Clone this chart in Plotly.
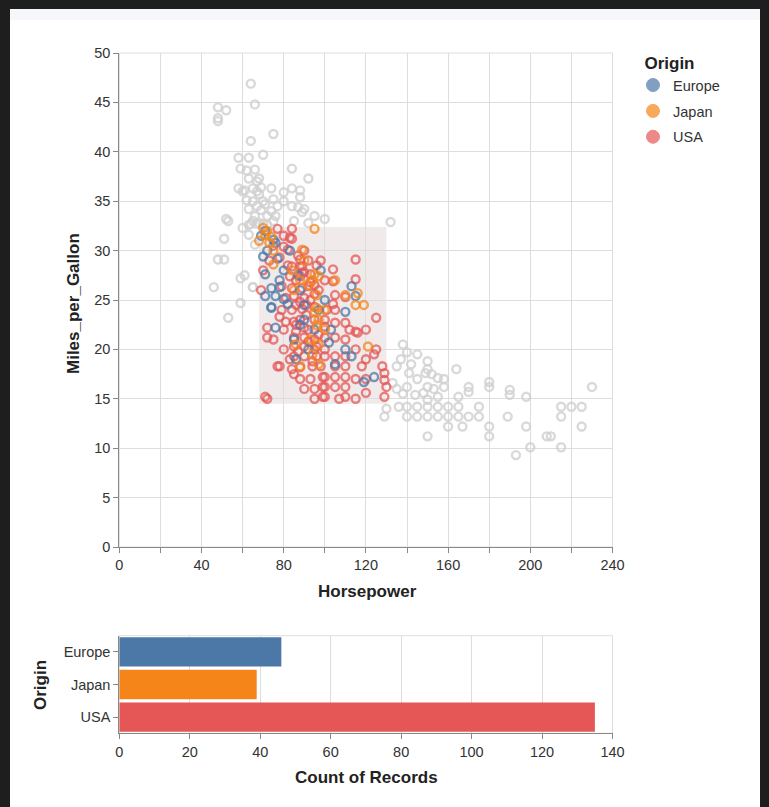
import plotly.graph_objects as go

# ---------------- data ----------------
# points outside the brush (drawn gray)
gray_hp = [46, 48, 48, 52, 48, 64, 66, 64, 75,
           52, 53, 51, 48, 51, 53, 59, 59, 65, 60,
           58, 63, 70, 84, 92, 59, 62, 66, 68, 63, 58, 65, 74, 84, 88, 80, 77, 88, 84, 87, 89, 74, 100, 132,
           67, 68, 70, 71, 63, 65, 62, 66, 68, 69, 72, 76, 80, 75, 90, 92, 61, 67, 70, 65, 60, 72, 75, 85, 95, 67, 69, 64, 63, 67,
           63, 66, 61, 65,
           138, 140, 145, 150, 150, 155, 164, 149, 150, 141, 135, 180, 180, 170, 170, 190, 190, 198, 230, 215, 220, 225,
           215, 225, 208, 210, 200, 215, 193, 198, 189, 180, 180, 175, 175, 170, 165, 165, 167, 160, 160, 160, 155, 155,
           150, 150, 150, 145, 145, 140, 140, 136, 129, 150, 144, 155, 140, 165, 133, 153, 158, 145, 138, 130, 148, 142,
           152, 158, 135, 137]
gray_mpg = [26.3, 43.4, 44.5, 44.2, 43.1, 46.9, 44.8, 41.1, 41.8,
            33.2, 33.0, 31.2, 29.1, 29.1, 23.2, 27.2, 24.7, 26.3, 32.3,
            39.4, 39.4, 39.7, 38.3, 37.3, 38.3, 38.1, 38.2, 37.3, 37.3, 36.3, 36.3, 36.3, 36.3, 36.1, 35.9, 34.5, 35.4, 34.5, 34.4, 33.9, 34.0, 33.2, 32.9,
            36.0, 35.7, 35.0, 34.7, 34.2, 35.0, 35.1, 33.5, 32.8, 34.1, 33.5, 33.5, 35.0, 35.2, 34.2, 32.8, 36.1, 34.5, 32.7, 33.0, 36.0, 32.6, 33.0, 33.0, 33.5, 37.0, 36.4, 32.7, 32.6, 32.7,
            31.6, 30.6, 27.5, 26.3,
            20.5, 19.7, 19.5, 18.8, 18.0, 17.1, 18.0, 17.6, 16.2, 17.6, 18.3, 16.7, 16.2, 16.2, 15.7, 15.9, 15.4, 15.2, 16.2, 14.2, 14.2, 14.2,
            13.2, 12.2, 11.2, 11.2, 10.1, 10.1, 9.3, 12.2, 13.2, 12.2, 11.2, 14.2, 13.2, 13.2, 14.2, 13.2, 12.2, 14.2, 13.2, 12.2, 14.2, 13.2,
            14.2, 13.2, 14.9, 14.2, 13.2, 14.2, 13.2, 14.2, 13.2, 11.2, 15.4, 15.2, 16.2, 15.2, 16.6, 16.0, 17.0, 17.0, 15.5, 14.0, 15.6, 18.5,
            17.5, 16.2, 16.0, 19.0]

# points inside the brush, by origin
eu_hp = [76, 75, 70, 77, 71, 74, 76, 71, 74, 82, 110, 113, 115, 76, 102, 86, 113, 119, 124, 72, 80, 78, 80,
         74, 88, 90, 95, 92, 97, 103, 78, 85, 87, 69, 83, 100, 105, 110, 88, 71, 98, 90]
eu_mpg = [30.8, 31.1, 29.4, 29.2, 27.6, 26.2, 25.4, 25.4, 24.3, 24.6, 23.8, 26.4, 25.4, 22.2, 20.7, 19.0, 19.3, 16.7, 17.2, 30.0, 28.0, 26.3, 25.1,
          24.2, 26.0, 23.0, 22.0, 20.0, 24.0, 22.0, 27.0, 21.0, 27.5, 31.5, 30.0, 25.0, 18.5, 20.0, 22.5, 32.0, 28.0, 24.5]

jp_hp = [95, 71, 72, 74, 73, 89, 75, 95, 97, 119, 116, 96, 95, 121, 88, 96, 68, 70, 97, 93, 100, 92, 88, 84,
         97, 94, 75, 110, 105, 100, 90, 96, 115, 97, 86, 94, 85]
jp_mpg = [32.2, 31.6, 32.0, 31.4, 30.8, 30.1, 28.6, 27.6, 27.4, 24.5, 25.7, 22.5, 23.8, 20.3, 18.3, 24.2, 31.0, 32.3, 23.0, 21.0, 24.0, 26.5, 27.0, 28.0,
          20.5, 19.5, 30.0, 25.5, 27.0, 22.0, 29.0, 25.5, 24.5, 18.5, 20.5, 27.0, 26.0]

us_hp = [84, 77, 84, 83, 82, 80, 78, 88, 84, 89, 88, 93, 88, 83, 92, 89, 84, 79, 95, 90, 85, 81, 115, 104, 104, 115,
         110, 104, 84, 89, 95, 101, 79, 125, 116, 124, 128, 129, 129, 120, 77, 71, 72, 99, 105, 110, 99, 105, 110, 99,
         110, 88, 78, 72, 72, 85, 90, 85, 90, 96, 85, 90, 96, 100, 105, 110, 78, 84, 94, 98, 105, 110, 118, 100, 100,
         100, 130, 129, 115, 110, 105, 100, 85, 81, 90, 100, 105, 95, 92, 88, 86, 93, 97, 86, 90, 82, 87, 75, 80,
         90, 96, 100, 105, 112, 120, 125, 115, 120, 93, 88, 95, 90, 85, 95, 107, 115, 115, 120, 80, 80, 75, 95, 100,
         110, 83, 98, 92, 105, 100, 95, 70, 73, 69,
         87, 92, 97, 86, 91, 94, 88, 93, 89, 95, 86, 91]
us_mpg = [32.2, 32.2, 31.2, 31.3, 30.1, 30.4, 29.3, 29.1, 28.4, 28.4, 28.4, 27.6, 27.4, 27.4, 26.4, 26.2, 26.2, 26.4, 25.6, 25.2, 25.4, 25.2, 29.1, 28.1, 26.9, 27.1,
          25.3, 24.6, 24.0, 24.1, 24.3, 24.0, 24.0, 23.2, 21.7, 19.5, 18.3, 17.6, 16.9, 15.6, 18.3, 15.2, 15.0, 17.2, 17.2, 17.2, 16.2, 16.2, 16.2, 15.2,
          15.2, 18.2, 23.3, 22.2, 21.2, 21.2, 21.2, 20.3, 20.3, 20.3, 19.3, 19.3, 19.3, 19.3, 19.3, 19.3, 18.3, 18.0, 18.3, 18.3, 18.3, 18.3, 18.3, 17.2, 16.2,
          15.2, 16.2, 15.2, 21.8, 22.7, 22.7, 22.3, 22.8, 22.8, 22.2, 21.2, 21.2, 21.0, 22.0, 23.0, 24.5, 25.0, 26.0, 27.0, 27.8, 28.5, 29.5, 30.5, 31.5,
          30.0, 28.5, 23.0, 24.0, 22.0, 22.0, 20.0, 20.0, 19.0, 17.0, 17.0, 16.0, 16.0, 17.5, 15.0, 15.0, 15.0, 17.0, 17.0, 22.0, 20.0, 21.0, 23.0, 20.0,
          21.0, 19.0, 29.0, 29.0, 25.5, 27.0, 26.5, 28.0, 29.0, 26.0,
          19.8, 20.8, 21.5, 22.5, 23.5, 18.8, 24.8, 26.8, 27.8, 20.0, 21.8, 24.5]

# brush selection extent
brush_hp = [68, 130]
brush_mpg = [14.5, 32.4]

# bar chart: count of selected records per origin
origins = ["Europe", "Japan", "USA"]
counts = [46, 39, 135]

colors = {"Europe": "#4c78a8", "Japan": "#f58518", "USA": "#e45756"}

# ---------------- figure ----------------
W, H = 769, 807
FONT = "Arial, 'Liberation Sans', Helvetica, sans-serif"

def px_x(p):
    return p / W

def px_y(p):
    return 1 - p / H

fig = go.Figure()

fig.add_trace(go.Scatter(x=gray_hp, y=gray_mpg, mode="markers", showlegend=False,
                         marker=dict(symbol="circle-open", size=8, color="#cfcfcf",
                                     line=dict(width=2.4), opacity=0.8),
                         xaxis="x", yaxis="y", hoverinfo="skip"))

for name, hp, mpg in [("USA", us_hp, us_mpg), ("Europe", eu_hp, eu_mpg), ("Japan", jp_hp, jp_mpg)]:
    fig.add_trace(go.Scatter(x=hp, y=mpg, mode="markers", showlegend=False, name=name,
                             marker=dict(symbol="circle-open", size=8, color=colors[name],
                                         line=dict(width=2.4), opacity=0.75),
                             xaxis="x", yaxis="y"))

# legend entries (filled symbols, like the reference)
for name in origins:
    fig.add_trace(go.Scatter(x=[None], y=[None], mode="markers", name=name,
                             legendgroup=name, showlegend=True,
                             marker=dict(symbol="circle", size=13, color=colors[name], opacity=0.7,
                                         line=dict(width=1, color=colors[name])),
                             xaxis="x", yaxis="y"))

fig.add_trace(go.Bar(x=counts, y=origins, orientation="h", showlegend=False,
                     marker=dict(color=[colors[o] for o in origins], line=dict(width=0)),
                     xaxis="x2", yaxis="y2"))

xdom = [px_x(119.3), px_x(612.5)]
axis_common = dict(showline=True, linecolor="#888", linewidth=1, ticks="outside", ticklen=5,
                   tickcolor="#888", tickwidth=1, zeroline=False, automargin=False,
                   tickfont=dict(family=FONT, size=14.5, color="#333"))

fig.update_layout(
    width=W, height=H,
    margin=dict(l=0, r=0, t=0, b=0, pad=0),
    paper_bgcolor="#1e1e1e", plot_bgcolor="rgba(0,0,0,0)",
    font=dict(family=FONT, color="#333"),
    xaxis=dict(domain=xdom, range=[0, 240], anchor="y",
               tickvals=list(range(0, 241, 20)),
               ticktext=[str(v) if v % 40 == 0 else "" for v in range(0, 241, 20)],
               showgrid=True, gridcolor="#ddd", gridwidth=1, **axis_common),
    yaxis=dict(domain=[px_y(547), px_y(53)], range=[0, 50], anchor="x", dtick=5,
               showgrid=True, gridcolor="#ddd", gridwidth=1, **axis_common),
    xaxis2=dict(domain=xdom, range=[0, 140], anchor="y2", dtick=20,
                showgrid=True, gridcolor="#ddd", gridwidth=1, **axis_common),
    yaxis2=dict(domain=[px_y(733.3), px_y(635.7)], anchor="x2", type="category",
                categoryorder="array", categoryarray=origins, autorange="reversed",
                showgrid=False, **axis_common),
    bargap=0.1,
    legend=dict(x=px_x(633), y=px_y(47), xanchor="left", yanchor="top",
                bgcolor="rgba(0,0,0,0)", traceorder="grouped", tracegroupgap=4,
                font=dict(family=FONT, size=14.5, color="#333"),
                title=dict(text="&nbsp;&nbsp;<b>Origin</b>", font=dict(family=FONT, size=17, color="#222"))),
    showlegend=True,
)

shapes = [
    # white page panel on dark frame
    dict(type="rect", xref="paper", yref="paper", x0=px_x(10), x1=px_x(760), y0=-0.01, y1=px_y(9),
         fillcolor="white", line=dict(width=0), layer="below"),
    dict(type="rect", xref="paper", yref="paper", x0=px_x(10), x1=px_x(760), y0=px_y(20), y1=px_y(9),
         fillcolor="#f5f7fa", line=dict(width=0), layer="below"),
    # view borders
    dict(type="rect", xref="x domain", yref="y domain", x0=0, x1=1, y0=0, y1=1,
         line=dict(color="#ddd", width=1), fillcolor="rgba(0,0,0,0)", layer="below"),
    dict(type="rect", xref="x2 domain", yref="y2 domain", x0=0, x1=1, y0=0, y1=1,
         line=dict(color="#ddd", width=1), fillcolor="rgba(0,0,0,0)", layer="below"),
    # brush
    dict(type="rect", xref="x", yref="y", x0=brush_hp[0], x1=brush_hp[1], y0=brush_mpg[0], y1=brush_mpg[1],
         fillcolor="rgba(120,60,60,0.11)", line=dict(width=0), layer="below"),
]
fig.update_layout(shapes=shapes)

title_font = dict(family=FONT, size=17, color="#222")
annotations = [
    dict(text="<b>Miles_per_Gallon</b>", x=px_x(73), y=px_y(304), textangle=-90),
    dict(text="<b>Horsepower</b>", x=px_x(367), y=px_y(591)),
    dict(text="<b>Count of Records</b>", x=px_x(366), y=px_y(777)),
    dict(text="<b>Origin</b>", x=px_x(40), y=px_y(685), textangle=-90),
]
for a in annotations:
    a.update(xref="paper", yref="paper", xanchor="center", yanchor="middle",
             showarrow=False, font=title_font)
fig.update_layout(annotations=annotations)

fig.write_html("out.html", config={"displayModeBar": False},
               post_script="document.body.style.margin='0';document.body.style.background='#1e1e1e';")
